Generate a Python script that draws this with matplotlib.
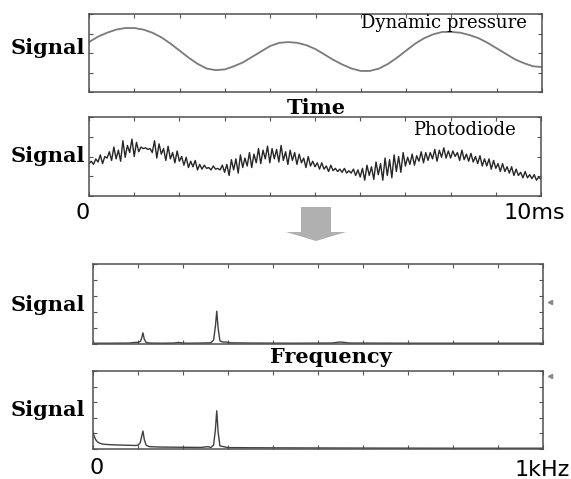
import numpy as np
import matplotlib
matplotlib.use('Agg')
import matplotlib.pyplot as plt
from matplotlib.patches import FancyArrow

# ---- data (normalised to panel height) ----
# dynamic pressure, sampled every 0.2 ms from 0 to 10 ms
pressure = [0.64, 0.71, 0.76, 0.80, 0.82, 0.82, 0.80, 0.76, 0.70, 0.62,
            0.53, 0.44, 0.36, 0.30, 0.28, 0.29, 0.33, 0.38, 0.45, 0.52,
            0.59, 0.63, 0.64, 0.63, 0.60, 0.55, 0.48, 0.41, 0.35, 0.30,
            0.27, 0.27, 0.30, 0.36, 0.44, 0.53, 0.62, 0.69, 0.74, 0.77,
            0.77, 0.76, 0.73, 0.69, 0.63, 0.56, 0.49, 0.42, 0.37, 0.33,
            0.32]

# photodiode, sampled every 0.05 ms from 0 to 10 ms
photodiode = [
    0.41, 0.44, 0.40, 0.47, 0.43, 0.52, 0.41, 0.50, 0.48, 0.56,
    0.45, 0.62, 0.47, 0.58, 0.44, 0.70, 0.49, 0.64, 0.55, 0.72,
    0.50, 0.68, 0.56, 0.62, 0.60, 0.61, 0.59, 0.60, 0.55, 0.70,
    0.48, 0.66, 0.53, 0.60, 0.45, 0.63, 0.47, 0.55, 0.42, 0.57,
    0.44, 0.50, 0.39, 0.49, 0.36, 0.44, 0.37, 0.45, 0.33, 0.40,
    0.34, 0.39, 0.35, 0.36, 0.33, 0.38, 0.34, 0.35, 0.33, 0.39,
    0.30, 0.40, 0.26, 0.46, 0.33, 0.47, 0.29, 0.52, 0.36, 0.48,
    0.38, 0.55, 0.36, 0.53, 0.42, 0.60, 0.41, 0.58, 0.47, 0.63,
    0.42, 0.60, 0.47, 0.59, 0.43, 0.64, 0.45, 0.56, 0.40, 0.58,
    0.45, 0.55, 0.40, 0.53, 0.42, 0.48, 0.36, 0.50, 0.38, 0.44,
    0.37, 0.42, 0.34, 0.42, 0.34, 0.38, 0.31, 0.39, 0.32, 0.35,
    0.31, 0.34, 0.30, 0.35, 0.29, 0.32, 0.29, 0.34, 0.26, 0.33,
    0.24, 0.35, 0.20, 0.39, 0.26, 0.37, 0.21, 0.43, 0.27, 0.41,
    0.20, 0.48, 0.26, 0.46, 0.23, 0.52, 0.31, 0.50, 0.30, 0.55,
    0.38, 0.49, 0.40, 0.53, 0.39, 0.51, 0.44, 0.56, 0.42, 0.55,
    0.45, 0.55, 0.47, 0.59, 0.44, 0.58, 0.49, 0.61, 0.48, 0.57,
    0.48, 0.57, 0.50, 0.55, 0.45, 0.58, 0.46, 0.53, 0.44, 0.54,
    0.43, 0.50, 0.41, 0.51, 0.38, 0.47, 0.38, 0.47, 0.34, 0.45,
    0.35, 0.41, 0.31, 0.41, 0.31, 0.37, 0.29, 0.37, 0.26, 0.34,
    0.26, 0.30, 0.23, 0.31, 0.23, 0.27, 0.22, 0.27, 0.20, 0.24,
    0.21]

# spectrum of the pressure signal (Hz, relative amplitude)
freq_p = [0, 40, 80, 95, 100, 105, 108, 111, 114, 118, 125, 150, 180, 190,
          200, 210, 240, 262, 268, 272, 275, 278, 282, 288, 295, 305, 350,
          450, 530, 550, 570, 700, 850, 1000]
spec_p = [0.01, 0.01, 0.012, 0.02, 0.02, 0.03, 0.07, 0.14, 0.06, 0.02, 0.012,
          0.01, 0.012, 0.02, 0.012, 0.01, 0.012, 0.015, 0.05, 0.22, 0.41, 0.20,
          0.04, 0.025, 0.025, 0.015, 0.012, 0.01, 0.012, 0.025, 0.012, 0.01,
          0.01, 0.01]

# spectrum of the photodiode signal
freq_d = [0, 3, 6, 10, 15, 20, 30, 50, 80, 95, 100, 105, 108, 111, 114, 118,
          125, 150, 200, 240, 255, 262, 268, 272, 275, 278, 282, 290, 300, 350,
          450, 600, 800, 1000]
spec_d = [0.22, 0.16, 0.12, 0.09, 0.075, 0.065, 0.058, 0.052, 0.048, 0.045,
          0.05, 0.08, 0.16, 0.23, 0.12, 0.05, 0.03, 0.025, 0.022, 0.02, 0.03,
          0.02, 0.05, 0.25, 0.49, 0.22, 0.04, 0.03, 0.018, 0.016, 0.014, 0.012,
          0.01, 0.01]

W, H = 571, 479
t_p = np.arange(len(pressure)) * 0.2
t_d = np.arange(len(photodiode)) * 0.05


def px_rect(x0, y0, x1, y1):
    # pixel box (top-left origin) -> figure fraction rect
    return [x0 / W, 1 - y1 / H, (x1 - x0) / W, (y1 - y0) / H]


def fig_text(x, y, s, **kw):
    fig.text(x / W, 1 - y / H, s, va='center', **kw)


def style_panel(ax, xlim, nx, ny):
    ax.set_xlim(*xlim)
    ax.set_ylim(0, 1)
    ax.set_xticks(np.linspace(xlim[0], xlim[1], nx + 1))
    ax.set_yticks(np.linspace(0, 1, ny + 1))
    ax.tick_params(direction='in', length=3, width=0.8, color='#555555',
                   top=True, right=True, labelbottom=False, labelleft=False)
    for sp in ax.spines.values():
        sp.set_color('#505050')
        sp.set_linewidth(1.1)


fig = plt.figure(figsize=(W / 100, H / 100), dpi=100)

ax1 = fig.add_axes(px_rect(89, 14, 542, 92))
ax1.plot(t_p, pressure, color='#7a7a7a', lw=1.3)
style_panel(ax1, (0, 10), 10, 4)

ax2 = fig.add_axes(px_rect(89, 117, 541, 196))
ax2.plot(t_d, photodiode, color='#262626', lw=1.0)
style_panel(ax2, (0, 10), 10, 4)

ax3 = fig.add_axes(px_rect(93, 264, 543, 344))
ax3.plot(freq_p, spec_p, color='#404040', lw=1.0)
style_panel(ax3, (0, 1000), 10, 5)
ax3.plot([1.015], [0.525], marker='<', ms=3, color='#888888',
         transform=ax3.transAxes, clip_on=False)

ax4 = fig.add_axes(px_rect(93, 371, 543, 449))
ax4.plot(freq_d, spec_d, color='#404040', lw=1.0)
style_panel(ax4, (0, 1000), 10, 5)
ax4.plot([1.015], [0.94], marker='<', ms=3, color='#888888',
         transform=ax4.transAxes, clip_on=False)

serif = 'DejaVu Serif'
for yy in (48, 156, 305, 410):
    fig_text(48, yy, 'Signal', ha='center', family=serif, weight='bold',
             fontsize=15)
fig_text(316, 108, 'Time', ha='center', family=serif, weight='bold',
         fontsize=15)
fig_text(331, 357, 'Frequency', ha='center', family=serif, weight='bold',
         fontsize=15)
fig_text(527, 23, 'Dynamic pressure', ha='right', family=serif, fontsize=13)
fig_text(516, 130, 'Photodiode', ha='right', family=serif, fontsize=13)

fig_text(83, 213, '0', ha='center', family='DejaVu Sans', fontsize=16)
fig_text(565, 213, '10ms', ha='right', family='DejaVu Sans', fontsize=16)
fig_text(97, 468, '0', ha='center', family='DejaVu Sans', fontsize=16)
fig_text(570, 470, '1kHz', ha='right', family='DejaVu Sans', fontsize=16)

# grey arrow between the time and frequency panels
fig.add_artist(FancyArrow(316 / W, 1 - 207 / H, 0, -(241 - 207) / H,
                          width=30 / W, head_width=60 / W, head_length=9 / H,
                          length_includes_head=True, transform=fig.transFigure,
                          color='#b0b0b0', lw=0))

fig.savefig('out.png', dpi=100)
